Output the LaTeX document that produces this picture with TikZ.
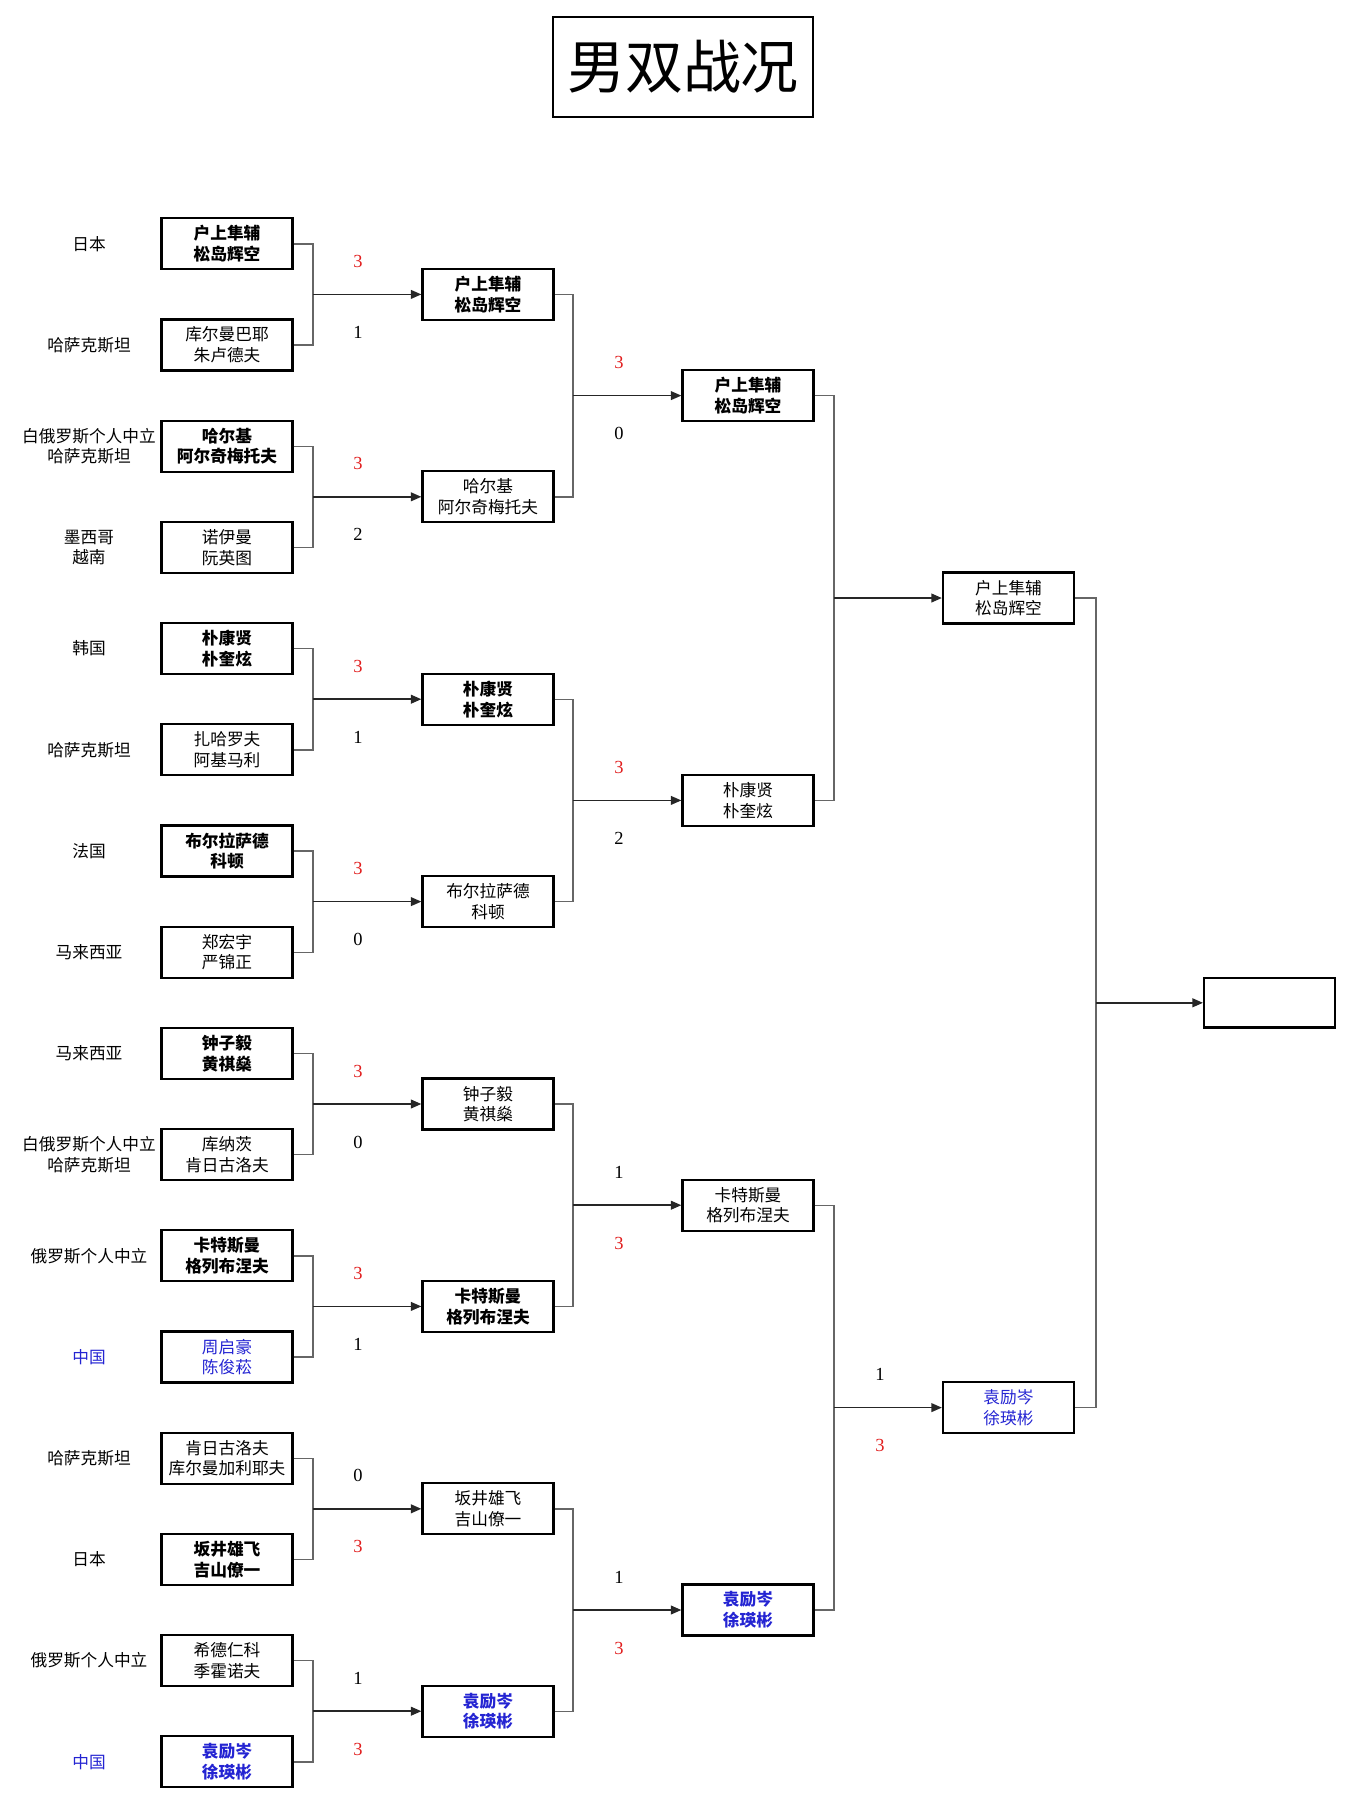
\documentclass[tikz,border=0pt]{standalone}
\usepackage{fontspec}
\setmainfont{Liberation Serif}
\newfontfamily\cjk{Noto Sans CJK SC}
\usetikzlibrary{arrows.meta}

\definecolor{cnblue}{RGB}{36,36,210}
\definecolor{scorered}{RGB}{225,30,30}

\begin{document}
\begin{tikzpicture}[
    x=0.02cm,
    y=-0.02cm,
    team/.style={
        rectangle,
        draw,
        line width=1.3pt,
        minimum width=2.62cm,
        minimum height=1.02cm,
        inner sep=0pt,
        align=center,
        font=\cjk\fontsize{9.5}{11.8}\selectfont
    },
    won/.style={
        team,
        font=\cjk\bfseries\fontsize{9.5}{11.8}\selectfont
    },
    nation/.style={
        align=center,
        font=\cjk\fontsize{9.5}{11.8}\selectfont
    },
    score/.style={font=\fontsize{10.5}{12}\selectfont},
    win/.style={score, text=scorered},
    bracket/.style={draw=black!60, line width=0.8pt},
    advance/.style={
        draw=black!85,
        line width=0.9pt,
        -{Triangle[length=6pt,width=5pt]}
    }
]

    \useasboundingbox (0,0) rectangle (1349,1803);

    % Title
    \node[draw, line width=1.2pt, minimum width=5.2cm, minimum height=2cm,
          font=\cjk\fontsize{33}{40}\selectfont] (title) at (683,67) {男双战况};

    % Countries
    \node[nation] (n1) at (89,243.8) {日本};
    \node[nation] (n2) at (89,345) {哈萨克斯坦};
    \node[nation] (n3) at (89,446.2) {白俄罗斯个人中立\\哈萨克斯坦};
    \node[nation] (n4) at (89,547.4) {墨西哥\\越南};
    \node[nation] (n5) at (89,648.6) {韩国};
    \node[nation] (n6) at (89,749.8) {哈萨克斯坦};
    \node[nation] (n7) at (89,851) {法国};
    \node[nation] (n8) at (89,952.2) {马来西亚};
    \node[nation] (n9) at (89,1053.4) {马来西亚};
    \node[nation] (n10) at (89,1154.6) {白俄罗斯个人中立\\哈萨克斯坦};
    \node[nation] (n11) at (89,1255.8) {俄罗斯个人中立};
    \node[nation, text=cnblue] (n12) at (89,1357) {中国};
    \node[nation] (n13) at (89,1458.2) {哈萨克斯坦};
    \node[nation] (n14) at (89,1559.4) {日本};
    \node[nation] (n15) at (89,1660.6) {俄罗斯个人中立};
    \node[nation, text=cnblue] (n16) at (89,1761.8) {中国};

    % Round 1
    \node[won] (a1) at (227,243.8) {户上隼辅\\松岛辉空};
    \node[team] (a2) at (227,345) {库尔曼巴耶\\朱卢德夫};
    \node[won] (a3) at (227,446.2) {哈尔基\\阿尔奇梅托夫};
    \node[team] (a4) at (227,547.4) {诺伊曼\\阮英图};
    \node[won] (a5) at (227,648.6) {朴康贤\\朴奎炫};
    \node[team] (a6) at (227,749.8) {扎哈罗夫\\阿基马利};
    \node[won] (a7) at (227,851) {布尔拉萨德\\科顿};
    \node[team] (a8) at (227,952.2) {郑宏宇\\严锦正};
    \node[won] (a9) at (227,1053.4) {钟子毅\\黄祺燊};
    \node[team] (a10) at (227,1154.6) {库纳茨\\肯日古洛夫};
    \node[won] (a11) at (227,1255.8) {卡特斯曼\\格列布涅夫};
    \node[team, text=cnblue] (a12) at (227,1357) {周启豪\\陈俊菘};
    \node[team] (a13) at (227,1458.2) {肯日古洛夫\\库尔曼加利耶夫};
    \node[won] (a14) at (227,1559.4) {坂井雄飞\\吉山僚一};
    \node[team] (a15) at (227,1660.6) {希德仁科\\季霍诺夫};
    \node[won, text=cnblue] (a16) at (227,1761.8) {袁励岑\\徐瑛彬};

    % Round 2
    \node[won] (b1) at (488,294.4) {户上隼辅\\松岛辉空};
    \node[team] (b2) at (488,496.8) {哈尔基\\阿尔奇梅托夫};
    \node[won] (b3) at (488,699.2) {朴康贤\\朴奎炫};
    \node[team] (b4) at (488,901.6) {布尔拉萨德\\科顿};
    \node[team] (b5) at (488,1104) {钟子毅\\黄祺燊};
    \node[won] (b6) at (488,1306.4) {卡特斯曼\\格列布涅夫};
    \node[team] (b7) at (488,1508.8) {坂井雄飞\\吉山僚一};
    \node[won, text=cnblue] (b8) at (488,1711.2) {袁励岑\\徐瑛彬};

    % Quarterfinals
    \node[won] (c1) at (748,395.6) {户上隼辅\\松岛辉空};
    \node[team] (c2) at (748,800.4) {朴康贤\\朴奎炫};
    \node[team] (c3) at (748,1205.2) {卡特斯曼\\格列布涅夫};
    \node[won, text=cnblue] (c4) at (748,1610) {袁励岑\\徐瑛彬};

    % Semifinals
    \node[team] (d1) at (1008.5,598) {户上隼辅\\松岛辉空};
    \node[team, text=cnblue] (d2) at (1008.5,1407.6) {袁励岑\\徐瑛彬};

    % Final
    \node[team, minimum height=0.99cm] (champ) at (1269.6,1002.8) {};

    % Junctions
    \coordinate (j1) at (313,294.4);
    \coordinate (j2) at (313,496.8);
    \coordinate (j3) at (313,699.2);
    \coordinate (j4) at (313,901.6);
    \coordinate (j5) at (313,1104);
    \coordinate (j6) at (313,1306.4);
    \coordinate (j7) at (313,1508.8);
    \coordinate (j8) at (313,1711.2);
    \coordinate (k1) at (573,395.6);
    \coordinate (k2) at (573,800.4);
    \coordinate (k3) at (573,1205.2);
    \coordinate (k4) at (573,1610);
    \coordinate (m1) at (834,598);
    \coordinate (m2) at (834,1407.6);
    \coordinate (f1) at (1096,1002.8);

    % Brackets
    \draw[bracket] (a1) -| (j1) |- (a2);
    \draw[bracket] (a3) -| (j2) |- (a4);
    \draw[bracket] (a5) -| (j3) |- (a6);
    \draw[bracket] (a7) -| (j4) |- (a8);
    \draw[bracket] (a9) -| (j5) |- (a10);
    \draw[bracket] (a11) -| (j6) |- (a12);
    \draw[bracket] (a13) -| (j7) |- (a14);
    \draw[bracket] (a15) -| (j8) |- (a16);
    \draw[bracket] (b1) -| (k1) |- (b2);
    \draw[bracket] (b3) -| (k2) |- (b4);
    \draw[bracket] (b5) -| (k3) |- (b6);
    \draw[bracket] (b7) -| (k4) |- (b8);
    \draw[bracket] (c1) -| (m1) |- (c2);
    \draw[bracket] (c3) -| (m2) |- (c4);
    \draw[bracket] (d1) -| (f1) |- (d2);

    % Arrows
    \draw[advance] (j1) -- (b1);
    \draw[advance] (j2) -- (b2);
    \draw[advance] (j3) -- (b3);
    \draw[advance] (j4) -- (b4);
    \draw[advance] (j5) -- (b5);
    \draw[advance] (j6) -- (b6);
    \draw[advance] (j7) -- (b7);
    \draw[advance] (j8) -- (b8);
    \draw[advance] (k1) -- (c1);
    \draw[advance] (k2) -- (c2);
    \draw[advance] (k3) -- (c3);
    \draw[advance] (k4) -- (c4);
    \draw[advance] (m1) -- (d1);
    \draw[advance] (m2) -- (d2);
    \draw[advance] (f1) -- (champ);

    % Scores
    \node[win] (s1) at (358,261.4) {3};
    \node[score] (t1) at (358,332.4) {1};
    \node[win] (s2) at (358,463.8) {3};
    \node[score] (t2) at (358,534.8) {2};
    \node[win] (s3) at (358,666.2) {3};
    \node[score] (t3) at (358,737.2) {1};
    \node[win] (s4) at (358,868.6) {3};
    \node[score] (t4) at (358,939.6) {0};
    \node[win] (s5) at (358,1071) {3};
    \node[score] (t5) at (358,1142) {0};
    \node[win] (s6) at (358,1273.4) {3};
    \node[score] (t6) at (358,1344.4) {1};
    \node[score] (s7) at (358,1475.8) {0};
    \node[win] (t7) at (358,1546.8) {3};
    \node[score] (s8) at (358,1678.2) {1};
    \node[win] (t8) at (358,1749.2) {3};
    \node[win] (u1) at (619,362.6) {3};
    \node[score] (v1) at (619,433.6) {0};
    \node[win] (u2) at (619,767.4) {3};
    \node[score] (v2) at (619,838.4) {2};
    \node[score] (u3) at (619,1172.2) {1};
    \node[win] (v3) at (619,1243.2) {3};
    \node[score] (u4) at (619,1577) {1};
    \node[win] (v4) at (619,1648) {3};
    \node[score] (w1) at (880,1374.6) {1};
    \node[win] (w2) at (880,1445.6) {3};

\end{tikzpicture}
\end{document}
